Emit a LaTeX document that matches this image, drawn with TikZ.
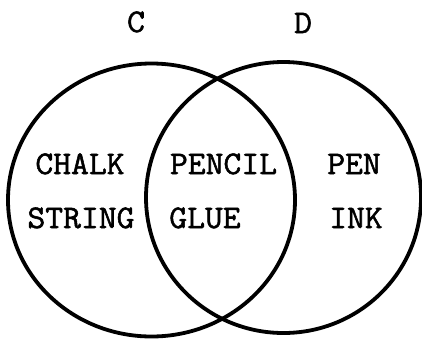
\documentclass[tikz,border=0pt]{standalone}
\usepackage{fontspec}
\newfontfamily\setfont[FakeStretch=1.05, FakeBold=1.6]{Latin Modern Mono}
\usepackage{tikz}
\usetikzlibrary{positioning}

\tikzset{
  setline/.style={line width=3.8pt, black},
  item/.style={anchor=base, inner sep=0pt, font=\fontsize{33}{39}\selectfont\setfont}
}

\begin{document}
\begin{tikzpicture}[x=1pt, y=-1pt]
  \useasboundingbox (0,0) rectangle (422,338);

  % Centres of the two sets
  \coordinate (Cc) at (151.5, 200);   % set C (left)
  \coordinate (Dc) at (283.5, 197.5); % set D (right)

  % The two sets
  \draw[setline] (Cc) ellipse [x radius=143.5, y radius=136.5];
  \draw[setline] (Dc) ellipse [x radius=137.5, y radius=135.5];

  % Set names
  \node[item] (nameC) at (136, 32) {C};
  \node[item] (nameD) at (303, 33) {D};

  % Only in C
  \node[item] (chalk)  at (80, 174)  {CHALK};
  \node[item] (string) at (81, 228)  {STRING};
  % In C and D
  \node[item] (pencil) at (223.5, 174) {PENCIL};
  \node[item] (glue)   at (205, 228)   {GLUE};
  % Only in D
  \node[item] (pen) at (354, 174) {PEN};
  \node[item] (ink) at (356, 228) {INK};
\end{tikzpicture}
\end{document}
